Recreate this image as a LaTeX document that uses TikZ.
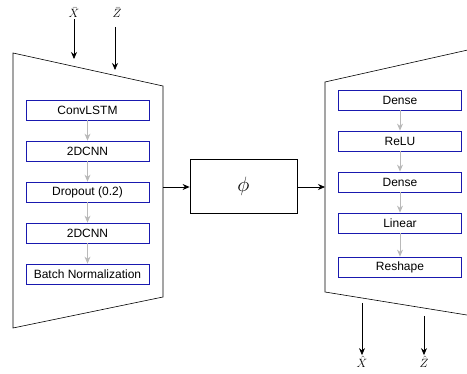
\documentclass[tikz,border=0pt]{standalone}
\usepackage{amsmath}
\usepackage{fontspec}
\setmainfont{Liberation Sans}
\usepackage{tikz}
\usetikzlibrary{arrows.meta,positioning}
\definecolor{layerblue}{RGB}{25,25,175}
\definecolor{flowgray}{RGB}{185,185,185}

\begin{document}
\begin{tikzpicture}[x=1pt,y=-1pt,
  layer/.style={draw=layerblue,line width=0.8pt,minimum width=123pt,minimum height=20pt,inner sep=0pt,font=\fontsize{12}{14}\selectfont},
  flow/.style={draw=flowgray,line width=0.8pt,-{Stealth[length=7pt,width=6pt]}},
  main/.style={line width=0.8pt,-{Stealth[length=7pt,width=6pt]}},
  io/.style={font=\fontsize{13}{15}\selectfont,inner sep=1pt}]
\useasboundingbox (0,0) rectangle (467,374);

% encoder
\draw[line width=0.6pt] (13,53) -- (163,86) -- (163,297) -- (13,328) -- cycle;
\node[layer] (E1) at (87.5,110) {ConvLSTM};
\node[layer] (E2) at (87.5,151) {2DCNN};
\node[layer] (E3) at (87.5,192) {Dropout (0.2)};
\node[layer] (E4) at (87.5,233) {2DCNN};
\node[layer] (E5) at (87.5,274) {Batch Normalization};

% latent map
\node[draw,line width=0.8pt,minimum width=107pt,minimum height=54pt,font=\fontsize{21}{24}\selectfont] (P) at (243.5,186) {$\phi$};

% decoder
\draw[line width=0.6pt] (470,49.5) -- (325,82) -- (325,292) -- (470,315.5);
\node[layer] (D1) at (400,100) {Dense};
\node[layer] (D2) at (400,141) {ReLU};
\node[layer] (D3) at (400,182) {Dense};
\node[layer] (D4) at (400,223) {Linear};
\node[layer] (D5) at (400,267) {Reshape};

\foreach \from/\to in {E1/E2,E2/E3,E3/E4,E4/E5,D1/D2,D2/D3,D3/D4,D4/D5}
\draw [flow] (\from) -- (\to);

% inputs and outputs
\node[io] (Xb) at (74,13) {$\bar{X}$};
\node[io] (Zb) at (117,13) {$\bar{Z}$};
\node[io] (Xh) at (362,362) {$\hat{X}$};
\node[io] (Zh) at (424,362) {$\hat{Z}$};
\coordinate (xin) at (74,59);
\coordinate (zin) at (115,70);
\coordinate (xout) at (362,303);
\coordinate (zout) at (424,316);
\coordinate (encout) at (163,187);
\coordinate (decin) at (325,187);

\draw [main] (Xb) -- (xin);
\draw [main] (115,27) -- (zin);
\draw [main] (xout) -- (Xh);
\draw [main] (zout) -- (Zh);
\draw [main] (encout) -- (P.west |- encout);
\draw [main] (P.east |- decin) -- (decin);
\end{tikzpicture}
\end{document}
